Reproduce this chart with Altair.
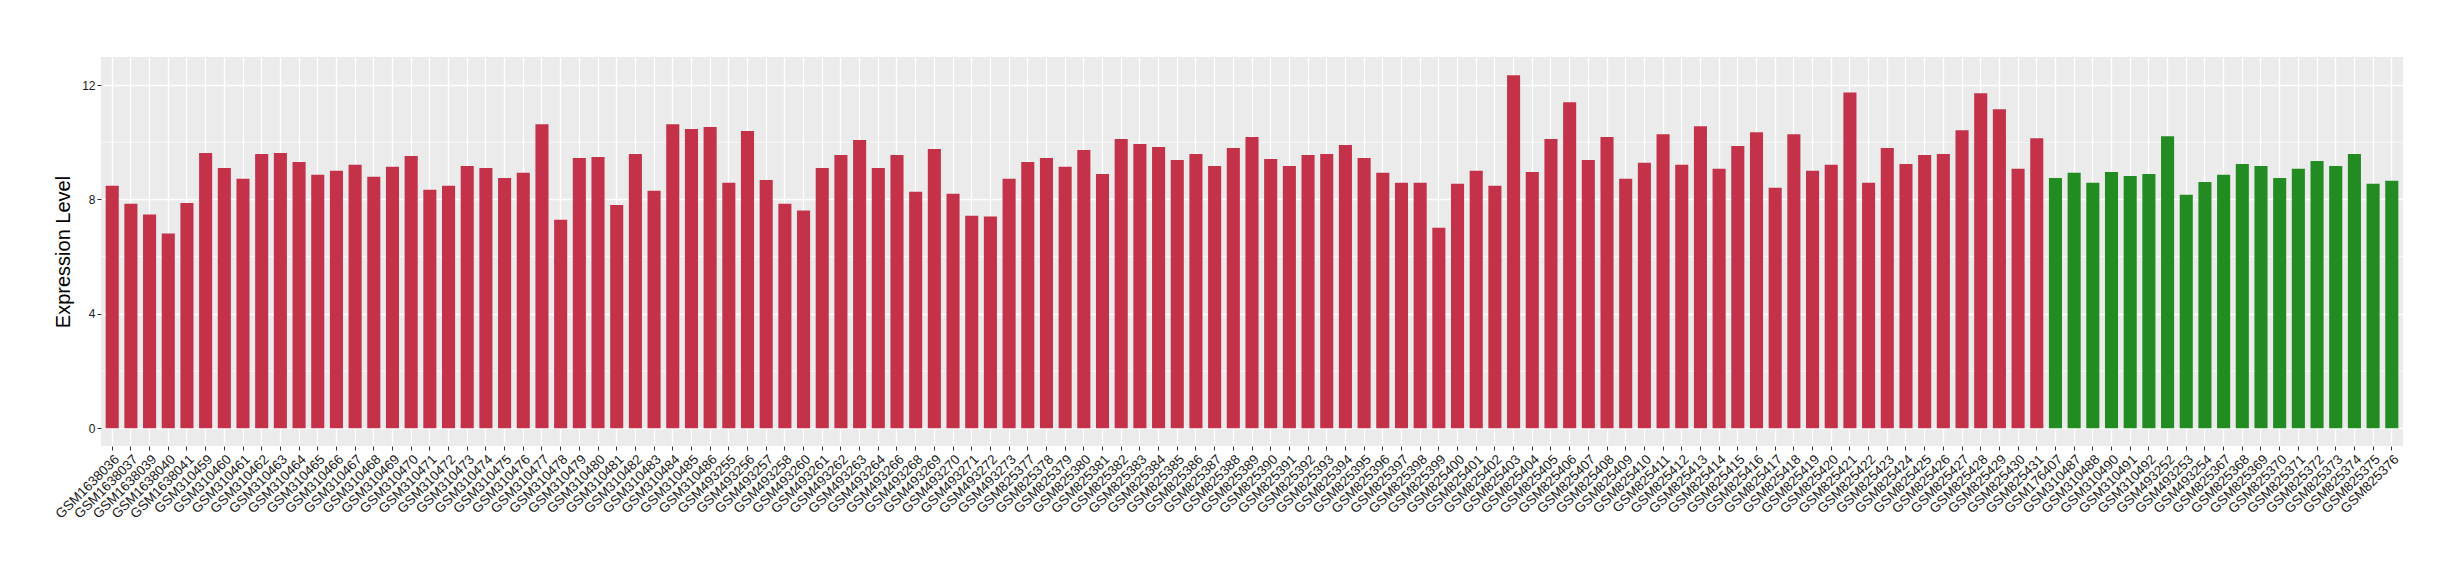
import altair as alt
import pandas as pd

red_samples = [
    "GSM1638036", "GSM1638037", "GSM1638039", "GSM1638040", "GSM1638041",
    "GSM310459", "GSM310460", "GSM310461", "GSM310462", "GSM310463",
    "GSM310464", "GSM310465", "GSM310466", "GSM310467", "GSM310468",
    "GSM310469", "GSM310470", "GSM310471", "GSM310472", "GSM310473",
    "GSM310474", "GSM310475", "GSM310476", "GSM310477", "GSM310478",
    "GSM310479", "GSM310480", "GSM310481", "GSM310482", "GSM310483",
    "GSM310484", "GSM310485", "GSM310486", "GSM493255", "GSM493256",
    "GSM493257", "GSM493258", "GSM493260", "GSM493261", "GSM493262",
    "GSM493263", "GSM493264", "GSM493266", "GSM493268", "GSM493269",
    "GSM493270", "GSM493271", "GSM493272", "GSM493273", "GSM825377",
    "GSM825378", "GSM825379", "GSM825380", "GSM825381", "GSM825382",
    "GSM825383", "GSM825384", "GSM825385", "GSM825386", "GSM825387",
    "GSM825388", "GSM825389", "GSM825390", "GSM825391", "GSM825392",
    "GSM825393", "GSM825394", "GSM825395", "GSM825396", "GSM825397",
    "GSM825398", "GSM825399", "GSM825400", "GSM825401", "GSM825402",
    "GSM825403", "GSM825404", "GSM825405", "GSM825406", "GSM825407",
    "GSM825408", "GSM825409", "GSM825410", "GSM825411", "GSM825412",
    "GSM825413", "GSM825414", "GSM825415", "GSM825416", "GSM825417",
    "GSM825418", "GSM825419", "GSM825420", "GSM825421", "GSM825422",
    "GSM825423", "GSM825424", "GSM825425", "GSM825426", "GSM825427",
    "GSM825428", "GSM825429", "GSM825430", "GSM825431",
]
red_values = [
    8.48, 7.85, 7.47, 6.81, 7.88, 9.62, 9.10, 8.72, 9.59, 9.62,
    9.31, 8.86, 9.00, 9.21, 8.79, 9.14, 9.52, 8.34, 8.48, 9.17,
    9.10, 8.75, 8.93, 10.63, 7.29, 9.45, 9.48, 7.81, 9.59, 8.30,
    10.63, 10.46, 10.53, 8.58, 10.39, 8.68, 7.85, 7.61, 9.10, 9.55,
    10.08, 9.10, 9.55, 8.27, 9.76, 8.20, 7.43, 7.40, 8.72, 9.31,
    9.45, 9.14, 9.73, 8.89, 10.11, 9.94, 9.83, 9.38, 9.59, 9.17,
    9.80, 10.18, 9.41, 9.17, 9.55, 9.59, 9.90, 9.45, 8.93, 8.58,
    8.58, 7.01, 8.55, 9.00, 8.48, 12.34, 8.96, 10.11, 11.40, 9.38,
    10.18, 8.72, 9.28, 10.28, 9.21, 10.56, 9.07, 9.87, 10.35, 8.41,
    10.28, 9.00, 9.21, 11.74, 8.58, 9.80, 9.24, 9.55, 9.59, 10.42,
    11.71, 11.15, 9.07, 10.14,
]
green_samples = [
    "GSM176407", "GSM310487", "GSM310488", "GSM310490", "GSM310491",
    "GSM310492", "GSM493252", "GSM493253", "GSM493254", "GSM825367",
    "GSM825368", "GSM825369", "GSM825370", "GSM825371", "GSM825372",
    "GSM825373", "GSM825374", "GSM825375", "GSM825376",
]
green_values = [
    8.75, 8.93, 8.58, 8.96, 8.82, 8.89, 10.21, 8.16, 8.61, 8.86,
    9.24, 9.17, 8.75, 9.07, 9.34, 9.17, 9.59, 8.55, 8.65,
]
groups = ["red", "green"]
colors = ["#C4324A", "#228B22"]
y_ticks = [0, 4, 8, 12]
minor_ticks = [2, 6, 10]

samples = red_samples + green_samples
df = pd.DataFrame({
    "sample": samples,
    "value": red_values + green_values,
    "base": [0.0] * len(samples),
    "group": [groups[0]] * len(red_samples) + [groups[1]] * len(green_samples),
})
minor_df = pd.DataFrame({"m": minor_ticks})

font = "Liberation Sans"
y_scale = alt.Scale(domain=[-0.62, 12.98], nice=False, zero=False)
x_scale = alt.Scale(paddingInner=0.3, paddingOuter=0.25)

y_axis = alt.Axis(title="Expression Level", values=y_ticks, format="d",
                  labelFontSize=12, labelFont=font, labelColor="#1A1A1A",
                  labelPadding=2, tickColor="#333333", tickSize=4,
                  titleFont=font, titleFontSize=20, titleFontWeight="normal",
                  titleColor="black", titlePadding=8,
                  grid=True, gridColor="white", gridWidth=1.4,
                  domain=False)

minor = alt.Chart(minor_df).mark_rule(color="white", strokeWidth=0.7).encode(
    y=alt.Y("m:Q", scale=y_scale, axis=y_axis)
)

bars = alt.Chart(df).mark_bar().encode(
    x=alt.X("sample:N", sort=samples, scale=x_scale,
            axis=alt.Axis(title=None, labelAngle=-45, labelAlign="right",
                          labelBaseline="top", labelFontSize=13.5, labelFont=font,
                          labelColor="#1A1A1A", labelPadding=2, labelOverlap=False,
                          tickColor="#333333", tickSize=4, tickWidth=1,
                          grid=True, gridColor="white", gridWidth=1.3,
                          domain=False)),
    y=alt.Y("value:Q", scale=y_scale, axis=y_axis, stack=None),
    y2=alt.Y2("base:Q"),
    color=alt.Color("group:N", scale=alt.Scale(domain=groups, range=colors), legend=None),
)

chart = alt.layer(minor, bars).properties(
    width=2302, height=389,
    padding={"left": 93, "top": 49, "right": 40, "bottom": 110},
    autosize=alt.AutoSizeParams(type="none"),
).configure_view(fill="#EBEBEB", stroke=None)

chart.save("out.html", embed_options={"renderer": "svg", "actions": False})
